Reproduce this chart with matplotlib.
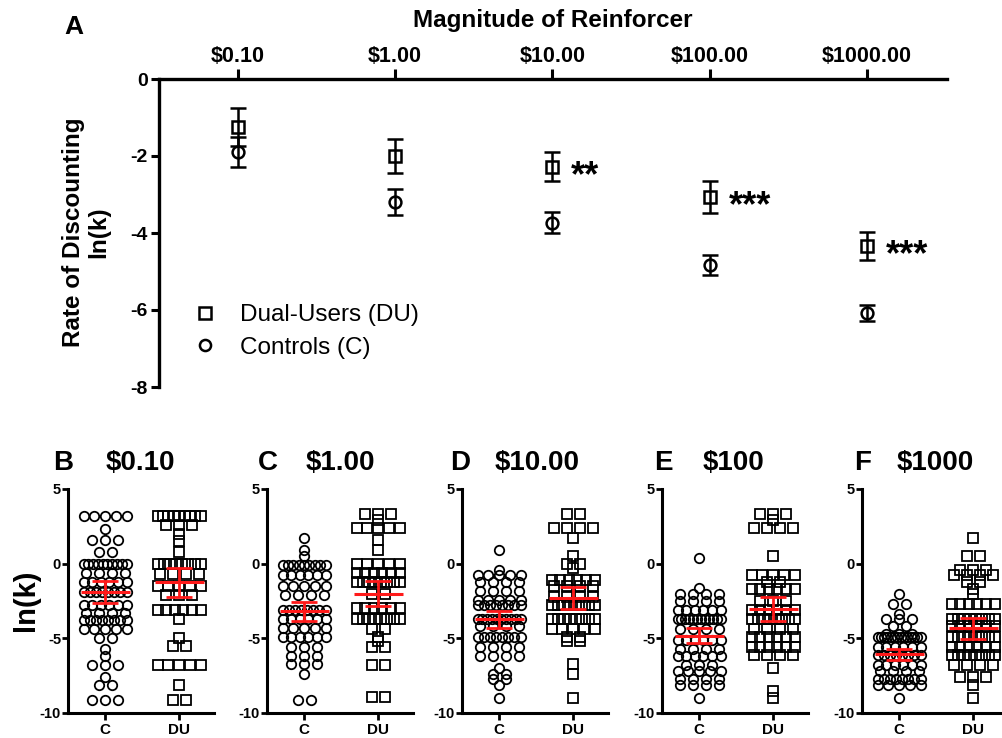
import matplotlib.pyplot as plt
import numpy as np
from matplotlib.lines import Line2D
from matplotlib.ticker import NullLocator
from matplotlib.transforms import offset_copy

plt.rcParams['font.family'] = ['Liberation Sans', 'DejaVu Sans']
plt.rcParams['font.weight'] = 'bold'

# group summaries per reinforcer magnitude (ln k, mean and SEM)
amounts = [0.1, 1, 10, 100, 1000]
amount_labels = ['$0.10', '$1.00', '$10.00', '$100.00', '$1000.00']
du_mean = [-1.25, -2.0, -2.28, -3.06, -4.34]
du_sem = [0.49, 0.43, 0.38, 0.41, 0.36]
c_mean = [-1.9, -3.19, -3.73, -4.83, -6.08]
c_sem = [0.39, 0.33, 0.28, 0.25, 0.2]
stars = ['', '', '**', '***', '***']

panel_letters = ['B', 'C', 'D', 'E', 'F']
panel_titles = ['$0.10', '$1.00', '$10.00', '$100', '$1000']

# individual ln(k) values, as distinct levels and how many subjects sit on each
b_c_levels = [3.2, 2.3, 1.6, 0.8, 0.0, -0.6, -1.2, -1.9, -2.8, -3.3, -3.8, -4.4, -5.0, -5.7, -6.2, -6.8, -7.6, -8.1, -9.1]
b_c_counts = [5, 1, 3, 2, 10, 4, 6, 8, 6, 4, 8, 5, 2, 1, 1, 3, 1, 2, 3]
b_du_levels = [3.2, 2.6, 2.0, 1.5, 0.8, 0.0, -0.7, -1.5, -2.1, -3.1, -3.7, -5.0, -5.5, -6.8, -8.1, -9.1]
b_du_counts = [9, 3, 1, 1, 1, 8, 4, 5, 3, 6, 1, 1, 2, 5, 1, 2]

c_c_levels = [1.7, 0.9, 0.5, -0.1, -0.75, -1.5, -2.1, -3.1, -3.7, -4.3, -4.9, -5.6, -6.2, -6.7, -7.4, -9.1]
c_c_counts = [1, 1, 1, 9, 6, 5, 4, 8, 6, 5, 6, 3, 3, 3, 1, 2]
c_du_levels = [3.3, 2.9, 2.4, 1.6, 0.9, 0.0, -0.6, -1.2, -2.0, -3.0, -3.7, -4.4, -4.9, -5.2, -5.6, -6.8, -8.9]
c_du_counts = [3, 1, 5, 1, 1, 5, 6, 8, 2, 6, 8, 2, 1, 1, 2, 2, 2]

d_c_levels = [0.9, -0.4, -0.75, -1.2, -1.8, -2.4, -2.8, -3.7, -4.2, -4.9, -5.6, -6.2, -7.0, -7.4, -7.7, -8.1, -9.0]
d_c_counts = [1, 1, 5, 4, 4, 5, 8, 10, 4, 8, 4, 4, 1, 2, 2, 1, 1]
d_du_levels = [3.3, 2.4, 1.7, 0.5, 0.0, -0.3, -1.1, -1.5, -2.2, -2.8, -3.7, -4.4, -4.9, -5.2, -6.7, -7.4, -9.0]
d_du_counts = [2, 4, 1, 1, 2, 1, 6, 4, 4, 8, 8, 5, 2, 2, 1, 1, 1]

e_c_levels = [0.4, -1.65, -2.0, -2.5, -3.1, -3.7, -4.4, -5.1, -5.7, -6.2, -6.8, -7.2, -7.7, -8.1, -9.0]
e_c_counts = [1, 1, 4, 4, 6, 12, 4, 6, 4, 6, 3, 5, 4, 4, 1]
e_du_levels = [3.3, 2.9, 2.4, 0.5, -0.75, -1.2, -1.7, -2.5, -3.1, -3.7, -4.4, -4.9, -5.6, -6.1, -7.0, -8.5, -9.0]
e_du_counts = [3, 1, 4, 1, 5, 2, 6, 3, 6, 8, 4, 6, 6, 4, 1, 1, 1]

f_c_levels = [-2.0, -2.7, -3.4, -3.7, -4.2, -4.7, -4.9, -5.6, -6.1, -6.8, -7.2, -7.7, -8.1, -9.0]
f_c_counts = [1, 2, 1, 3, 2, 3, 14, 6, 8, 6, 4, 8, 5, 1]
f_du_levels = [1.7, 0.5, -0.4, -0.75, -1.2, -1.7, -2.0, -2.7, -3.7, -4.2, -4.9, -5.6, -6.1, -6.8, -7.6, -8.1, -9.0]
f_du_counts = [1, 2, 3, 4, 2, 1, 1, 6, 8, 6, 8, 6, 8, 4, 3, 1, 1]

c_groups = [(b_c_levels, b_c_counts), (c_c_levels, c_c_counts), (d_c_levels, d_c_counts),
            (e_c_levels, e_c_counts), (f_c_levels, f_c_counts)]
du_groups = [(b_du_levels, b_du_counts), (c_du_levels, c_du_counts), (d_du_levels, d_du_counts),
             (e_du_levels, e_du_counts), (f_du_levels, f_du_counts)]

RED = '#ff1a1a'


def swarm(levels, counts, center, step=0.175, half=0.29):
    # spread points that share a level sideways, squeezing crowded rows
    xs, ys = [], []
    for v, n in zip(levels, counts):
        s = step if n < 2 else min(step, 2 * half / (n - 1))
        xs.extend(center + (np.arange(n) - (n - 1) / 2) * s)
        ys.extend([v] * n)
    return xs, ys


fig = plt.figure(figsize=(10.02, 7.38), dpi=100)

# ---- panel A: group means across magnitudes ----
ax = fig.add_axes([159 / 1002, 1 - 387 / 738, 788 / 1002, 308 / 738])
ax.set_xscale('log')
ax.set_xlim(10 ** -1.502, 10 ** 3.509)
ax.set_ylim(-8, 0)

ax.errorbar(amounts, du_mean, yerr=du_sem, fmt='s', ms=8.5, mfc='none', mec='k', mew=1.8,
            ecolor='k', elinewidth=1.8, capsize=5.5, capthick=1.8, clip_on=False, zorder=3)
ax.errorbar(amounts, c_mean, yerr=c_sem, fmt='o', ms=8.5, mfc='none', mec='k', mew=1.8,
            ecolor='k', elinewidth=1.8, capsize=5.5, capthick=1.8, clip_on=False, zorder=3)

star_tr = offset_copy(ax.transData, fig=fig, y=-7, units='points')
for a, m, s in zip(amounts, du_mean, stars):
    if s:
        ax.text(a * 10 ** 0.12, m, s, transform=star_tr, fontsize=26, ha='left', va='center')

for side in ['bottom', 'right']:
    ax.spines[side].set_visible(False)
for side in ['top', 'left']:
    ax.spines[side].set_linewidth(2.4)
ax.xaxis.tick_top()
ax.xaxis.set_minor_locator(NullLocator())
ax.set_xticks(amounts, amount_labels)
ax.set_yticks([0, -2, -4, -6, -8], ['0', '-2', '-4', '-6', '-8'])
ax.tick_params(axis='x', length=7, width=2.2, pad=2, labelsize=15.5)
ax.tick_params(axis='y', length=6, width=2.2, pad=2, labelsize=14)

handles = [Line2D([], [], marker='s', ls='none', ms=8, mfc='none', mec='k', mew=1.8),
           Line2D([], [], marker='o', ls='none', ms=8, mfc='none', mec='k', mew=1.8)]
fig.legend(handles, ['Dual-Users (DU)', 'Controls (C)'], loc='center left',
           bbox_to_anchor=(193 / 1002, 1 - 331.5 / 738), frameon=False,
           prop={'weight': 'normal', 'size': 17.5}, handlelength=1.0,
           handletextpad=0.95, labelspacing=0.45, borderpad=0, borderaxespad=0)

fig.text(74 / 1002, 1 - 27 / 738, 'A', fontsize=19, ha='center', va='center')
fig.text(553 / 1002, 1 - 20 / 738, 'Magnitude of Reinforcer', fontsize=17.5, ha='center', va='center')
fig.text(86 / 1002, 1 - 232 / 738, 'Rate of Discounting\nln(k)', fontsize=17.5, rotation=90,
         ha='center', va='center', multialignment='center', linespacing=1.1)

# ---- panels B-F: individual values per magnitude ----
spine_x = [68, 267, 462, 662, 862]
letter_x = [63, 268, 460, 663, 863]
title_x = [140, 340, 537, 733, 935]

for i in range(5):
    bx = fig.add_axes([spine_x[i] / 1002, 1 - 713 / 738, 146 / 1002, 224 / 738])
    bx.set_xlim(-0.5, 1.47)
    bx.set_ylim(-10, 5)

    xs, ys = swarm(*c_groups[i], 0)
    bx.plot(xs, ys, 'o', ms=6.8, mfc='none', mec='k', mew=1.3, clip_on=False)
    xs, ys = swarm(*du_groups[i], 1)
    bx.plot(xs, ys, 's', ms=7.2, mfc='none', mec='k', mew=1.3, clip_on=False)

    for x, m, s in [(0, c_mean[i], c_sem[i]), (1, du_mean[i], du_sem[i])]:
        ci = 1.96 * s
        bx.errorbar(x, m, yerr=ci, fmt='none', ecolor=RED, elinewidth=2, capsize=9.5,
                    capthick=2, zorder=4)
        bx.hlines(m, x - 0.33, x + 0.33, color=RED, lw=2.2, zorder=4)

    for side in ['top', 'right']:
        bx.spines[side].set_visible(False)
    for side in ['left', 'bottom']:
        bx.spines[side].set_linewidth(2.2)
    bx.set_xticks([0, 1], ['C', 'DU'])
    bx.set_yticks([5, 0, -5, -10], ['5', '0', '-5', '-10'])
    bx.tick_params(axis='x', length=5, width=2, pad=2, labelsize=11)
    bx.tick_params(axis='y', length=4, width=2, pad=1, labelsize=10.5)

    fig.text(letter_x[i] / 1002, 1 - 463 / 738, panel_letters[i], fontsize=20, ha='center', va='center')
    fig.text(title_x[i] / 1002, 1 - 463 / 738, panel_titles[i], fontsize=20, ha='center', va='center')

fig.text(26 / 1002, 1 - 600 / 738, 'ln(k)', fontsize=21, rotation=90, ha='center', va='center')

fig.savefig('out.png', dpi=100)
